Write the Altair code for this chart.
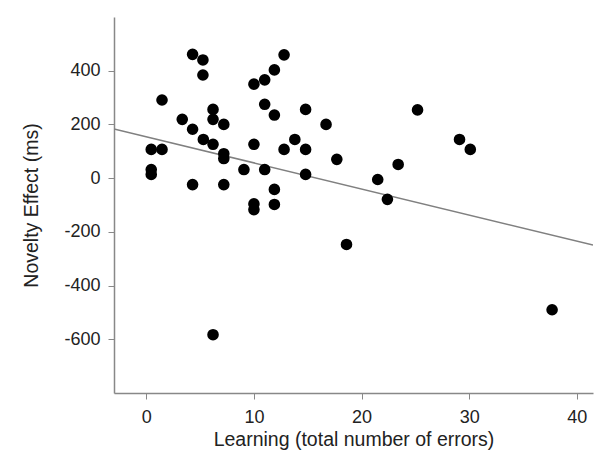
import altair as alt
import pandas as pd

learning = [0.46, 1.46, 0.46, 0.46, 1.46, 3.34, 4.3, 4.3, 5.26, 5.26, 5.3, 6.2, 6.2, 6.2,
            7.2, 7.2, 7.2, 4.3, 7.2, 9.07, 10.0, 10.0, 11.0, 11.9, 12.8, 11.0, 11.9, 11.0,
            12.8, 13.8, 14.8, 14.8, 14.8, 16.7, 17.7, 11.9, 11.9, 10.0, 10.0, 25.2, 29.1,
            30.1, 23.4, 21.5, 22.4, 18.6, 37.7, 6.2]
novelty = [107, 107, 32, 14, 291, 219, 182, 461, 440, 384, 144, 256, 219, 126,
           200, 91, 73, -24, -24, 32, 126, 350, 366, 403, 459, 275, 235, 32,
           107, 144, 107, 14, 256, 200, 70, -42, -98, -96, -117, 254, 144,
           107, 51, -5, -79, -247, -490, -583]

fit_x = [-3, 41.5]
fit_y = [183, -249]

pts = pd.DataFrame({"x": learning, "y": novelty})
fit = pd.DataFrame({"x": fit_x, "y": fit_y})

xscale = alt.Scale(domain=[-3, 41.5], nice=False, zero=False)
yscale = alt.Scale(domain=[-800, 600], nice=False, zero=False)

common = dict(grid=False, tickSize=6, labelFontSize=18, titleFontSize=19.5,
              labelFont="Liberation Sans", titleFont="Liberation Sans",
              titleFontWeight="normal", domainColor="#888888", tickColor="#888888",
              labelColor="#222222", titleColor="#222222", domainWidth=1.5)

xaxis = alt.Axis(title="Learning (total number of errors)", values=[0, 10, 20, 30, 40],
                 labelPadding=9, titlePadding=4, **common)
yaxis = alt.Axis(title="Novelty Effect (ms)", values=[-600, -400, -200, 0, 200, 400],
                 labelPadding=8, titlePadding=22, labelExpr="datum.value + ''", **common)

line = alt.Chart(fit).mark_line(color="#808080", strokeWidth=1.5, clip=True).encode(
    x=alt.X("x:Q", scale=xscale, axis=xaxis),
    y=alt.Y("y:Q", scale=yscale, axis=yaxis),
)
dots = alt.Chart(pts).mark_circle(color="black", opacity=1, size=135).encode(
    x=alt.X("x:Q", scale=xscale),
    y=alt.Y("y:Q", scale=yscale),
)

chart = alt.layer(line, dots).properties(
    width=479, height=376,
    autosize=alt.AutoSizeParams(type="none"),
    padding={"left": 106, "top": 9, "right": 4, "bottom": 59},
).configure_view(stroke=None)

chart.save("out.html", embed_options={"renderer": "svg", "actions": False})
